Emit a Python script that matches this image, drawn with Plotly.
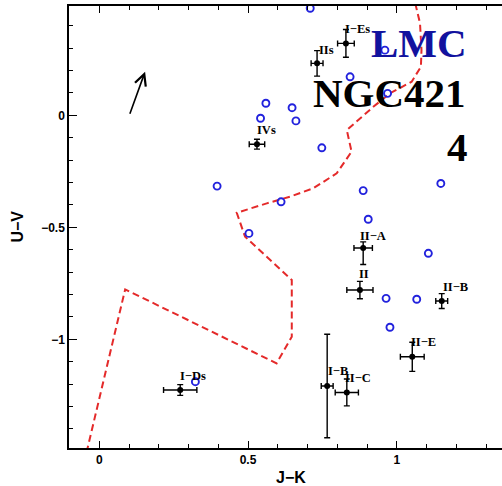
import plotly.graph_objects as go

# Star clusters with photometric errors (J-K, U-V)
cluster_names = ["I−Es", "IIs", "IVs", "II−A", "II", "II−B", "II−E", "I−B", "II−C", "I−Ds"]
cluster_jk = [0.829, 0.732, 0.530, 0.887, 0.876, 1.151, 1.052, 0.766, 0.832, 0.272]
cluster_uv = [0.321, 0.232, -0.129, -0.592, -0.780, -0.829, -1.078, -1.208, -1.237, -1.226]
cluster_jk_err = [0.028, 0.020, 0.026, 0.031, 0.044, 0.020, 0.040, 0.020, 0.039, 0.056]
cluster_uv_err_up = [0.062, 0.057, 0.022, 0.027, 0.039, 0.033, 0.065, 0.231, 0.060, 0.024]
cluster_uv_err_down = [0.062, 0.057, 0.022, 0.074, 0.039, 0.033, 0.065, 0.231, 0.060, 0.024]

# Comparison sample (open circles)
field_jk = [0.396, 0.503, 0.709, 0.960, 0.843, 0.969, 0.560, 0.648, 0.542, 0.661,
            0.748, 1.148, 0.887, 0.611, 0.904, 1.106, 0.964, 1.067, 0.977, 0.323]
field_uv = [-0.316, -0.527, 0.478, 0.291, 0.172, 0.098, 0.054, 0.034, -0.013, -0.025,
            -0.145, -0.304, -0.336, -0.386, -0.464, -0.616, -0.817, -0.821, -0.946, -1.189]

# Model evolutionary track
track_jk = [1.062, 1.078, 1.083, 1.081, 1.050, 0.977, 0.921, 0.832, 0.848, 0.798,
            0.719, 0.641, 0.563, 0.462, 0.490, 0.647, 0.647, 0.596, 0.087, -0.042]
track_uv = [0.500, 0.411, 0.292, 0.217, 0.150, 0.098, 0.038, -0.066, -0.162, -0.259,
            -0.326, -0.363, -0.393, -0.435, -0.542, -0.735, -0.988, -1.107, -0.777, -1.500]

# Reddening vector (tail, head)
vec_jk = [0.101, 0.154]
vec_uv = [0.000, 0.195]

# Label offsets in pixels relative to each cluster point
label_dx = [12, 9, 10, 10, 4.5, 13.3, 11.7, 10.7, 11.3, 13]
label_dy = [14, 13.3, 14.3, 12.4, 15.7, 14.3, 14.4, 15, 14.6, 14.3]

fig = go.Figure()

fig.add_trace(go.Scatter(
    x=track_jk, y=track_uv, mode="lines",
    line=dict(color="#e42a2a", width=2, dash="7px,4px"),
    hoverinfo="skip", showlegend=False,
))

fig.add_trace(go.Scatter(
    x=field_jk, y=field_uv, mode="markers",
    marker=dict(symbol="circle-open", size=7, color="#2222dd", line=dict(width=1.9, color="#2222dd")),
    showlegend=False,
))

fig.add_trace(go.Scatter(
    x=cluster_jk, y=cluster_uv, mode="markers",
    marker=dict(symbol="circle", size=6, color="black"),
    error_x=dict(type="data", array=cluster_jk_err, color="black", thickness=1.4, width=3),
    error_y=dict(type="data", array=cluster_uv_err_up, arrayminus=cluster_uv_err_down,
                 symmetric=False, color="black", thickness=1.4, width=3),
    showlegend=False,
))

annotations = []
for name, xv, yv, dx, dy in zip(cluster_names, cluster_jk, cluster_uv, label_dx, label_dy):
    annotations.append(dict(
        x=xv, y=yv, xref="x", yref="y", text=name, showarrow=False,
        xshift=dx, yshift=dy, xanchor="center", yanchor="middle",
        font=dict(family="Liberation Serif", size=12.5, color="black", weight="bold"),
    ))

# Reddening vector arrow
annotations.append(dict(
    x=vec_jk[1], y=vec_uv[1], ax=vec_jk[0], ay=vec_uv[0],
    xref="x", yref="y", axref="x", ayref="y", text="",
    showarrow=True, arrowhead=5, arrowsize=1.4, arrowwidth=1.6, arrowcolor="black",
))

# Galaxy labels
annotations.append(dict(
    x=0.9238, y=0.9174, xref="paper", yref="paper", text="LMC", showarrow=False,
    xanchor="right", yanchor="middle",
    font=dict(family="Liberation Serif", size=41, color="#12129e", weight="bold"),
))
annotations.append(dict(
    x=0.9215, y=0.8032, xref="paper", yref="paper", text="NGC421", showarrow=False,
    xanchor="right", yanchor="middle",
    font=dict(family="Liberation Serif", size=41, color="black", weight="bold"),
))
annotations.append(dict(
    x=0.926, y=0.6821, xref="paper", yref="paper", text="4", showarrow=False,
    xanchor="right", yanchor="middle",
    font=dict(family="Liberation Serif", size=41, color="black", weight="bold"),
))

# Axis titles
annotations.append(dict(
    x=0.513, y=-0.0667, xref="paper", yref="paper", text="J−K", showarrow=False,
    xanchor="center", yanchor="middle",
    font=dict(family="Liberation Sans", size=16, color="black", weight="bold"),
))
annotations.append(dict(
    x=-0.118, y=0.5007, xref="paper", yref="paper", text="U−V", showarrow=False,
    xanchor="center", yanchor="middle", textangle=-90,
    font=dict(family="Liberation Sans", size=16, color="black", weight="bold"),
))

tickfont = dict(family="Liberation Sans", size=12, color="black", weight="bold")

fig.update_layout(
    width=502, height=486,
    margin=dict(l=69, r=0, t=6, b=38),
    paper_bgcolor="white", plot_bgcolor="white",
    annotations=annotations,
    xaxis=dict(
        range=[-0.1018, 1.3536], showgrid=False, zeroline=False,
        showline=True, linecolor="black", linewidth=1.5, mirror="allticks",
        ticks="inside", ticklen=7, tickwidth=1.3, tickcolor="black",
        tickmode="array", tickvals=[0, 0.5, 1], ticktext=["0", "0.5", "1"],
        tickfont=tickfont,
        minor=dict(ticks="inside", ticklen=4, tickwidth=1.1, tickcolor="black", dtick=0.1, tick0=0),
    ),
    yaxis=dict(
        range=[-1.485, 0.488], showgrid=False, zeroline=False,
        showline=True, linecolor="black", linewidth=1.5, mirror=False,
        ticks="inside", ticklen=8, tickwidth=1.3, tickcolor="black",
        tickmode="array", tickvals=[-1, -0.5, 0], ticktext=["−1", "−0.5", "0"],
        tickfont=tickfont,
        minor=dict(ticks="inside", ticklen=4, tickwidth=1.1, tickcolor="black", dtick=0.1, tick0=0),
    ),
)

fig.write_html("out.html")
